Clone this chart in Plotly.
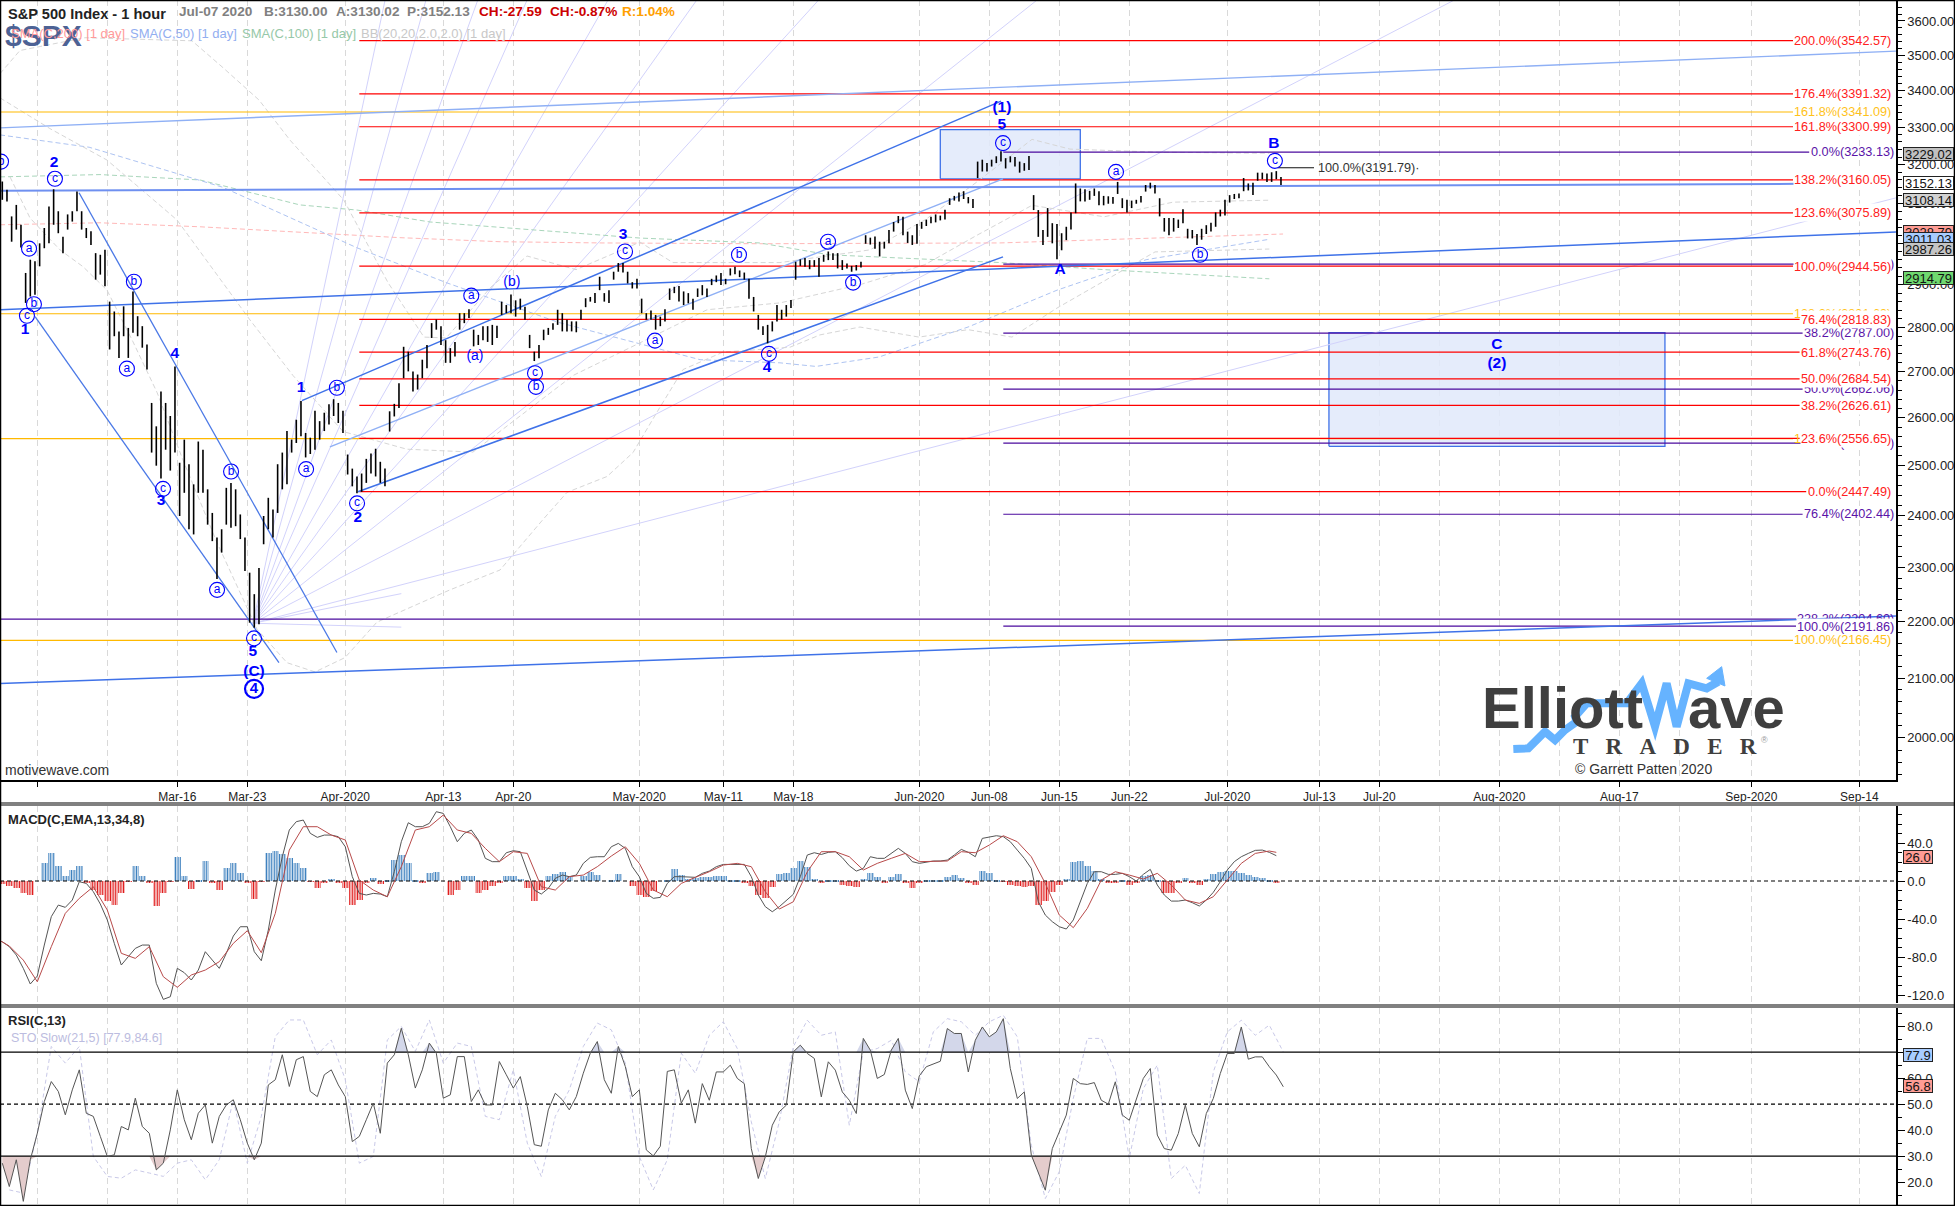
import math
import numpy as np
import plotly.graph_objects as go

W, H = 1955, 1206
FONT = "Liberation Sans"
HOLIDAYS = ["2020-04-10", "2020-05-25", "2020-07-03"]

# ---------- date axis ----------
TICK_DATES = ["2020-03-02", "2020-03-16", "2020-03-23", "2020-04-01", "2020-04-13", "2020-04-20",
              "2020-05-01", "2020-05-11", "2020-05-18", "2020-06-01", "2020-06-08", "2020-06-15",
              "2020-06-22", "2020-07-01", "2020-07-13", "2020-07-20", "2020-08-03", "2020-08-17",
              "2020-09-01", "2020-09-14"]
TICK_TEXT = ["", "Mar-16", "Mar-23", "Apr-2020", "Apr-13", "Apr-20", "May-2020", "May-11", "May-18",
             "Jun-2020", "Jun-08", "Jun-15", "Jun-22", "Jul-2020", "Jul-13", "Jul-20", "Aug-2020",
             "Aug-17", "Sep-2020", "Sep-14"]
GRID_ONLY_DATES = ["2020-03-09", "2020-07-27", "2020-08-10", "2020-08-24"]

# ---------- hourly bars (three sampled per session, first session Feb-26) ----------
HIGH = [3156,3156,3135, 3067,3096,3046, 2928,2960,2956,
        3000,3038,3092, 3136,3080,3016, 3072,3080,3130, 3080,3038,3030, 2976,2972,2984,
        2860,2837,2791, 2849,2799,2884, 2826,2803,2761, 2632,2582,2657, 2632,2604,2712,
        2506,2554,2503, 2462,2550,2533, 2452,2405,2357, 2373,2455,2465, 2452,2402,2357,
        2290,2250,2299, 2399,2435,2412, 2503,2527,2572, 2554,2596,2636, 2568,2558,2615,
        2593,2611,2629, 2640,2632,2615,
        2523,2494,2478, 2484,2514,2525, 2535,2508,2494, 2614,2630,2675, 2756,2745,2701,
        2694,2727,2760, 2810,2818,2803, 2771,2753,2767, 2833,2833,2842, 2795,2783,2803,
        2803,2806,2804, 2860,2852,2877, 2863,2867,2848, 2783,2745,2760, 2795,2799,2810,
        2841,2833,2818, 2814,2814,2841, 2868,2871,2880, 2919,2880,2887, 2931,2952,2952,
        2931,2906,2914,
        2867,2833,2839, 2829,2825,2842, 2891,2895,2897, 2884,2880,2867, 2891,2899,2891,
        2914,2922,2928, 2914,2939,2943, 2934,2929,2914, 2871,2829,2803, 2806,2814,2852,
        2841,2852,2864, 2955,2961,2964, 2959,2959,2964, 2972,2980,2976, 2976,2959,2951,
        2945,2947,2955, 3020,3014,3017, 3004,3004,3033, 3053,3068,3066, 3029,3020,3048,
        3053,3059,3066, 3072,3069,3084, 3113,3119,3128, 3131,3116,3111, 3208,3213,3204,
        3213,3222,3235, 3217,3222,3220, 3208,3204,3223, 3121,3083,3033, 3088,3050,3048,
        3025,3041,3077, 3151,3138,3136, 3132,3138,3131, 3119,3118,3116, 3155,3113,3109,
        3107,3109,3119, 3147,3153,3147, 3113,3063,3063, 3063,3059,3085, 3036,3033,3023,
        3036,3045,3051, 3077,3084,3109,
        3121,3124,3125, 3165,3151,3153, 3179,3179,3177, 3180,3183,3168]
LOW = [3109,3109,3105, 3004,3034,2990, 2857,2872,2876,
       2944,2988,3000, 3046,3025,2976, 3034,3054,3080, 3034,3013,2996, 2912,2924,2896,
       2750,2780,2731, 2780,2731,2788, 2780,2754,2705, 2527,2500,2474, 2533,2490,2527,
       2399,2445,2373, 2363,2445,2445, 2382,2350,2278, 2328,2382,2376, 2379,2354,2293,
       2198,2189,2195, 2344,2373,2357, 2405,2452,2462, 2527,2547,2561, 2517,2524,2533,
       2554,2572,2586, 2604,2589,2568,
       2482,2458,2444, 2447,2465,2484, 2478,2465,2458, 2571,2603,2621, 2686,2701,2657,
       2661,2686,2708, 2776,2795,2760, 2720,2720,2734, 2795,2810,2822, 2757,2760,2771,
       2767,2760,2776, 2829,2833,2833, 2825,2841,2818, 2753,2724,2730, 2771,2783,2795,
       2806,2791,2791, 2791,2789,2818, 2847,2860,2857, 2887,2860,2857, 2912,2931,2929,
       2903,2891,2891,
       2833,2818,2818, 2795,2803,2814, 2864,2880,2860, 2852,2856,2841, 2871,2875,2871,
       2899,2906,2899, 2901,2922,2925, 2918,2912,2867, 2837,2795,2783, 2764,2791,2814,
       2818,2825,2845, 2912,2945,2943, 2937,2943,2919, 2955,2959,2959, 2939,2935,2939,
       2931,2934,2941, 2999,2997,2987, 2968,2987,3000, 3029,3050,3020, 3001,2996,2999,
       3036,3043,3050, 3052,3057,3059, 3096,3107,3105, 3111,3100,3088, 3165,3182,3182,
       3195,3204,3208, 3190,3206,3195, 3179,3184,3186, 3083,3016,2996, 3016,3000,2961,
       2983,3008,3034, 3075,3105,3105, 3109,3119,3095, 3095,3099,3099, 3124,3088,3077,
       3088,3099,3102, 3130,3138,3125, 3067,3029,3020, 3029,3038,3050, 3012,3012,2996,
       3009,3023,3029, 3041,3067,3069,
       3102,3111,3113, 3131,3133,3121, 3158,3162,3155, 3155,3162,3147]

# ---------- moving averages and bands ----------
SMA200_T = [-2.66,4.48,11.62,18.76,25.9,33.05,40.19,51.6,68.76,88.98]
SMA200_P = [3046,3051,3041,3028,3014,3004,3001,2999,3001,3023]
SMA100_T = [-2.66,4.48,11.62,18.76,22.84,28.05,43.05,51.6,56.55,68.84,76.2,88]
SMA100_P = [3168,3174,3160,3096,3083,3053,3013,3001,2972,2953,2936,2914]
SMA50_T = [-2.66,3.7,13.26,22.84,29.2,37.2,47.34,53.05,55.62,60.12,66.48,72.84,79.2,88]
SMA50_P = [3279,3246,3141,2989,2905,2812,2727,2720,2712,2733,2801,2887,2960,3010]
BBU_T = [-2.66,-1.24,3.4,11.05,13.26,15.84,18.05,21.9,25.05,27.62,29.2,32.4,34.98,38.48,43.05,45.4,53.05,59.48,63.4,67.12,71.05,73.76,79.9,88]
BBU_P = [3448,3514,3551,3542,3465,3374,3265,3108,2905,2778,2776,2894,2969,2936,3003,2953,2953,2984,3058,3155,3267,3241,3233,3230]
BBM_T = [-2.66,0.9,4.98,9.98,15.2,18.26,21.84,26.4,31.12,38.27,43.05,47.84,53.05,58.76,63.4,67.12,71.05,76.2,81.12,88]
BBM_P = [3380,3296,3212,3058,2817,2692,2571,2534,2528,2692,2765,2841,2857,2900,2948,3020,3095,3066,3103,3108]
BBL_T = [-1.95,-.52,1.62,3.27,4.98,6.84,8.55,10.4,12.84,15.7,17.84,19.84,21.98,24.26,29.48,33.05,36.12,37.84,40.7,42.55,44.26,46.12,48.98,53.76,55.9,58.76,62.98,66.48,69.62,72.84,77.62,79.84,88]
BBL_P = [3168,3063,2984,2943,2887,2767,2655,2512,2347,2186,2127,2111,2136,2199,2258,2295,2392,2446,2478,2527,2612,2705,2744,2755,2783,2801,2778,2795,2778,2845,2936,2979,2986]

# ---------- Fibonacci levels ----------
RED_LEVELS = [3542.57,3391.32,3300.99,3160.05,3075.89,2944.56,2818.83,2743.76,2684.54,2626.61,2556.65,2447.49]
RED_PCT = ["200.0%","176.4%","161.8%","138.2%","123.6%","100.0%","76.4%","61.8%","50.0%","38.2%","23.6%","0.0%"]
YELLOW_LEVELS = [3341.09,2831.69,2556.10,2166.45]
YELLOW_PCT = ["161.8%","138.2%","123.6%","100.0%"]
PURPLE_LEVELS = [3233.13,2949.41,2787.00,2662.06,2546.79,2402.44,2191.86]
PURPLE_PCT = ["0.0%","23.6%","38.2%","50.0%","61.8%","76.4%","100.0%"]
PURPLE_LONG_LEVEL = 2204.60
PURPLE_LONG_PCT = "228.2%"

# ---------- drawn trend lines: (t0, p0, t1, p1) ----------
THIN_BLUE = [(2.98,3127,21.4,2145),(-.16,2825,17.26,2127)]
STRONG_BLUE = [(-2.66,2841,132.76,3028),(-2.66,2091,132.76,2210),(18.9,2637,68.84,3371),(22.9,2447,68.98,2967)]
PALE_BLUE = [(-2.66,3298,132.76,3512),(20.9,2539,68.98,3163)]
MID_BLUE = [(-2.66,3132,125.9,3150)]
FAN_ORIGIN = (15.4, 2197)
FAN_T = [24.84,27.76,31.46,34.98,40.76,47.1,55.8,71.4,101.2,132.76,26,26]
FAN_P = [3662,3662,3662,3662,3662,3662,3662,3662,3662,3114,2251,2190]
BOXES = [(64.5,74.5,3163,3293),(92.26,116.26,2540,2788)]

# ---------- wave labels ----------
CIRCLED = [("b",-2.59,3208),("c",1.26,3163),("a",-.59,2987),("b",-.24,2854),("c",-.74,2827),("b",6.9,2907),
           ("a",6.4,2707),("c",8.98,2453),("b",13.84,2488),("a",12.84,2258),("c",15.48,2170),("b",21.4,2665),
           ("a",19.2,2493),("c",22.84,2424),("a",31,2874),("c",35.55,2697),("b",35.62,2667),("c",41.98,2980),
           ("a",44.12,2770),("b",50.12,2972),("c",52.26,2740),("a",56.48,3004),("b",58.27,2905),("c",68.98,3257),
           ("a",77.05,3181),("b",83.05,2972),("c",88.4,3210)]
BOLD_WAVES = [("2",1.19,3205),("1",-.88,2795),("4",9.83,2740),("3",8.84,2428),("5",15.4,2145),("(C)",15.48,2111),
              ("1",18.84,2665),("2",22.9,2395),("3",41.84,3021),("4",52.12,2709),("(1)",68.9,3352),("5",68.9,3306),
              ("A",73.05,2936),("B",88.33,3255),("C",104.26,2760),("(2)",104.26,2718)]
PLAIN_WAVES = [("(a)",31.26,2734),("(b)",33.9,2905)]
THICK_WAVE = ("4",15.48,2082)

# ---------- MACD ----------
MACD_A = [-63.9,-69.1,-77.9,-91.9,-108.4,-100,-67.4,-37.5,-25.3,-27.7,-20,-.7,-2.5,-11.2,-24.2,-41,-65.6,-88.4,-79.6,-70.9,
          -67.4,-67.4,-107.7,-124.6,-121.8,-91.9,-96.5,-104.2,-93.7,-74.4,-83.2,-91.9,-76.1,-57.9,-48.1,-48.1,-74.4,-83.9,-51.6,-9.5,
          25.6,53.7,62.5,64.2,50.2,46,48.4,48.4,46.7,36.1,4.6,-13,-14.7,-13,-13.7,-16.5,9.8,41.4,61.4,57.2,
          57.2,60.7,73,71.2,57.2,41.4,50.2,53.7,43.2,23.9,20.4,20.4,29.8,31.9,30.9,11.6,-9.5,-13.7,-7.7,2.8,
          6.3,4.6,6.3,18.6,24.9,25.6,25.6,36.1,39.6,34.4,15.1,4.6,-13,-18.2,-17.2,-2.5,4.6,4.6,4.6,3.9]
MACD_B = [8.1,10.5,15.1,17.5,17.5,17.5,17.5,4.6,-14.7,-27,-32.3,-27,-20,-14,4.6,27.4,29.8,28,30.2,30.9,
          24.6,16.1,10.5,13.3,25.6,23.9,23.9,29.1,34.4,29.1,20.4,18.6,19.6,21.1,21.1,22.1,27.4,33.3,30.2,25.6,
          44.9,46.7,47.7,46.7,41.4,32.6,23.9,13.3,-21.8,-35.8,-42.8,-48.1,-50.5,-41,-21.8,-2.5,9.8,9.8,7,7,
          8.1,4.6,0,7,12.3,-4.2,-14.7,-21.1,-21.1,-20,-22.8,-26.3,-20,-11.9,-.7,11.6,20.4,25.6,29.1,32.3,
          32.6,30.2,26.7]
SIGNAL_T = [-2.66] + list(range(-2, 89)) + [88.5]
SIGNAL = [-62.8,-68.4,-83.2,-106,-69.1,-34,-18.2,-6,-30.5,-76.1,-81.4,-69.1,-100.7,-111.9,-98.9,-93.7,-84.9,-65.6,-52.3,-75.4,
          -34,32.6,57.2,57.2,48.4,43.2,1,-9.5,-16.5,15.1,53.7,57.2,69.5,53.7,50.2,34.4,20.4,30.9,29.1,-6,
          -9.5,4.6,6.3,15.1,26.3,36.1,18.6,-9.5,-16.5,-2.5,3.9,
          9.8,16.8,18.6,15.1,-11.2,-29.5,-21.8,9.8,30.9,30.9,25.6,11.6,18.6,23.9,29.1,20.4,20.4,21.1,30.9,29.8,
          37.9,47.7,41.4,25.6,-2.5,-35.8,-49.1,-28.8,1.1,9.8,6.3,2.1,8.1,-4.2,-20,-23.5,-16.5,1.1,18.6,29.1,
          31.6,30.2]
HIST_A = [-2.8,-4.9,-7.4,-12.6,-14.4,0,18.9,29.5,15.4,4.9,11.9,15.4,-2.1,-9.1,-14.4,-21.4,-24.9,-12.6,-.7,15.4,
          4.9,-2.1,-26,-12.6,-.7,25.3,4.9,-8.4,1.4,20.7,-2.1,-9.1,13.7,18.9,8.4,-2.1,-18.9,-.4,29.5,31.2,
          28.8,24.2,18.9,13.7,-.4,-7.4,-2.1,2.1,-1.4,-7.4,-24.9,-19.6,-2.1,3.2,-2.8,1.4,22.5,27.7,18.9,1.4,
          -2.1,8.4,9.1,0,-14.4,-9.1,4.9,5.6,-12.6,-9.1,-4.9,-2.1,5.6,5.6,2.1,-7.4,-21.4,-9.1,4.9,7.7,
          9.1,4.9,0,4.9,9.1,6.7,0,1.4,7.7,0,-4.9,-14.4,-16.8,-10.9,0,1.4,12.6,6.7,2.1,2.8]
HIST_B = [3.9,4.6,5.6,5.3,1.4,1.1,-1.1,-5.6,-14.4,-17.9,-6.7,7.4,8.1,13.7,21.4,14.4,2.5,-1.1,1.1,.7,
          -3.9,-5.6,-6.3,2.5,8.4,3.9,-1.1,3.9,7.7,-1.1,-7.4,-2.1,1.4,1.4,.4,3.9,6.7,3.2,-1.1,-3.9,
          10.9,8.4,1.4,-.4,-4.6,-5.6,-6.7,-5.6,-24.9,-21.4,-11.6,-3.9,2.5,20,21.4,15.4,10.2,2.5,-1.4,-1.1,
          1.4,-3.9,-1.1,4.9,6,.4,-12.6,-12.6,-2.1,3.2,-1.1,-3.9,2.5,7.7,9.5,10.2,10.9,8.4,6,3.9,
          3.2,1.1,-2.5]

# ---------- RSI / Stochastic ----------
RSI_A = [27.3,18.3,28.6,12.6,28.6,38.8,51,58.7,54.9,45.9,55.5,63.2,46.5,45.3,37.6,29.9,30.5,41.4,40.1,52.3,
         41.4,38.8,24.7,27.3,40.1,55.5,44,36.3,46.5,49.7,35,45.3,49.7,51.7,44,35,28.6,35,57.4,59.4,
         69,56.8,67.1,68.3,54.9,52.9,61.3,63.2,57.4,52.9,35.6,37.6,44,50.4,38.8,65.8,69,79.2,69,56.2,
         63.2,73.5,69.6,52.3,53.6,68.3,68.3,51,55.5,49.7,49.7,66.4,61.3,56.2,60.6,49.1,34.4,33.8,47.8,54.2,
         51.7,47.8,52.9,61.9,69.6,74.1,59.4,54.2,72.2,64.5,52.9,55.5,32.4,30.1,33.8,62.6,63.2,50.4,55.5,42.7]
RSI_B = [57.9,51.5,62.4,62.4,65,59.9,57.9,32.9,21.4,29.7,41.9,47.1,49.6,70.1,72.7,69.5,67.6,52.8,66.3,63.1,
         54.7,51.5,46.4,75.3,70.8,59.9,61.4,70.8,75.3,55.4,48.3,60.9,64.4,65.6,66.5,79.1,77.2,77.2,62.4,74.6,
         79.7,75.9,77.8,82.9,63.7,52.2,54.7,30.4,24,16.9,32.9,39.4,45.8,59.9,57.9,57.6,58.3,51.5,50,58.6,
         45.8,43.8,52.2,59.9,63.7,38.1,32.9,32.3,38.7,49.6,38.7,33.6,46.4,52.2,61.8,69.5,69.5,79.7,67.3,68.2,
         68.2,64.4,61.2,56.7]
STO_A = [17,15.8,38.8,72.2,65.8,72.2,29.9,22.2,21.5,24.7,23.5,22.2,27.3,28.6,20.9,28.6,51.7,27.3,45.3,76,
         82.4,82.4,69,74.7,59.4,27.3,29.9,74.7,79.9,70.3,82.4,65.8,73.5,72.2,45.3,44,63.2,35,22.2,45.3,
         55.5,72.2,81.2,78.6,65.8,29.9,17,28.6,69.6,61.9]
STO_B = [76.5,81.7,71.4,43.2,21.4,43.2,72.1,82.3,76.5,77.8,41.9,70.1,71.4,74.6,62.4,58.6,77.8,82.9,81.7,76.5,
         81.7,84.2,75.9,34.2,13.7,24,52.2,75.3,75.3,62.4,29.1,56,65,21.4,26.5,15.6,62.4,77.8,82.3,76.5,
         80.4,70.1]

# ---------- value tags ----------
PRICE_TAGS = [(3229.02,"#c0c0c0"),(3152.13,"#ffffff"),(3108.14,"#d2d2d2"),(3028.79,"#ff9c94"),
              (3011.03,"#a8ccff"),(2987.26,"#c4c4c4"),(2914.79,"#6fd86f")]
MACD_TAG = (25.0, "26.0", "#ff9c94")
RSI_TAGS = [(69.0,"77.9","#a8ccff"),(57.0,"56.8","#ff9c94")]
PRICE_TICKS = list(range(2000, 3700, 100))
MACD_TICKS = [40,0,-40,-80,-120]
RSI_TICKS = [80,70,60,50,40,30,20]

# ---------- layout geometry ----------
AXIS_RIGHT = 1896
PX_PER_DAY = 14.0
X0_PX = 37.3
def t_of_px(px):
    return (px - X0_PX) / PX_PER_DAY
def px_(x):
    return x / W
def py_(y):
    return 1 - y / H
def date_t(d):
    n = int(np.busday_count("2020-03-02", d, holidays=HOLIDAYS))
    return n if n <= 89 else 89 + (n - 89) * 12 / 14
XR = [t_of_px(0), t_of_px(AXIS_RIGHT)]

fig = go.Figure()
def line(xs, ys, color, width=1, dash=None, axis=1):
    sfx = "" if axis == 1 else str(axis)
    fig.add_trace(go.Scatter(x=xs, y=ys, mode="lines", xaxis="x"+sfx, yaxis="y"+sfx, hoverinfo="skip",
                             line=dict(color=color, width=width, dash=dash), showlegend=False))

# boxes
for t0, t1, p0, p1 in BOXES:
    fig.add_trace(go.Scatter(x=[t0,t1,t1,t0,t0], y=[p0,p0,p1,p1,p0], mode="lines", fill="toself",
                             fillcolor="rgba(225,233,250,0.85)", line=dict(color="#3f72e8", width=1.3),
                             hoverinfo="skip", showlegend=False))
# fan
for ft, fp in zip(FAN_T, FAN_P):
    line([FAN_ORIGIN[0], ft], [FAN_ORIGIN[1], fp], "#d2d2fb", 1)
# MAs
line(SMA200_T, SMA200_P, "#ffb8b8", 1, "5px,3px")
line(SMA100_T, SMA100_P, "#a9d6bb", 1, "5px,3px")
line(SMA50_T, SMA50_P, "#aec4f2", 1, "5px,3px")
for a, b in ((BBU_T,BBU_P),(BBM_T,BBM_P),(BBL_T,BBL_P)):
    line(a, b, "#d6d6d6", 1, "5px,3px")
# fib lines + labels
anns = []
def lab(text, px, price, color, bg=None, h=None):
    d = dict(text=text, xref="paper", x=px_(px), xanchor="right", yref="y", y=math.log10(price), yanchor="middle",
             showarrow=False, font=dict(family=FONT, size=12.7, color=color), borderpad=0)
    if bg:
        d["bgcolor"] = bg
    if h:
        d["height"] = h
    anns.append(d)

PURPLE = "#4b0a9e"; RED = "#ff0000"; YEL = "#ffb900"
p_start = date_t("2020-06-09")
for lv, pc in zip(PURPLE_LEVELS, PURPLE_PCT):
    txt = f"{pc}({lv:.2f})"
    line([p_start, t_of_px(1895 - 6.6*len(txt))], [lv, lv], PURPLE, 1.2)
    lab(txt, 1895, lv, "#5a14a8")
txt = f"{PURPLE_LONG_PCT}({PURPLE_LONG_LEVEL:.2f})"
line([XR[0], t_of_px(1895 - 6.6*len(txt))], [PURPLE_LONG_LEVEL]*2, PURPLE, 1.2)
lab(txt, 1895, PURPLE_LONG_LEVEL, "#5a14a8")
for lv, pc in zip(YELLOW_LEVELS, YELLOW_PCT):
    txt = f"{pc}({lv:.2f})"
    line([XR[0], t_of_px(1892 - 6.6*len(txt))], [lv, lv], YEL, 1.2)
    lab(txt, 1892, lv, "#ffc21a", bg="#ffffff" if pc == "100.0%" else None)
r_start = date_t("2020-04-02")
for lv, pc in zip(RED_LEVELS, RED_PCT):
    txt = f"{pc}({lv:.2f})"
    line([r_start, t_of_px(1892 - 6.6*len(txt))], [lv, lv], RED, 1.2)
    lab(txt, 1892, lv, "#ff2020", bg="#ffffff", h=17)
# bring the purple 100% label above the hidden 228.2% one
lab(f"{PURPLE_PCT[-1]}({PURPLE_LEVELS[-1]:.2f})", 1895, PURPLE_LEVELS[-1], "#5a14a8", bg="#ffffff", h=15)
anns.append(dict(text="100.0%(3191.79)·", xref="paper", x=px_(1316), xanchor="left", yref="y", y=math.log10(3191.79),
                 showarrow=False, font=dict(family=FONT, size=12.7, color="#333333")))
line([date_t("2020-07-07")+0.6, t_of_px(1314)], [3191.79, 3191.79], "#111111", 1.2)

# trend lines
for t0,p0,t1,p1 in THIN_BLUE:
    line([t0,t1],[p0,p1],"#4a78e6",1.3)
for t0,p0,t1,p1 in PALE_BLUE:
    line([t0,t1],[p0,p1],"#8fb0f5",1.4)
for t0,p0,t1,p1 in MID_BLUE:
    line([t0,t1],[p0,p1],"#6f90f0",2)
for t0,p0,t1,p1 in STRONG_BLUE:
    line([t0,t1],[p0,p1],"#3f72e8",1.5)

# bars
bx, by = [], []
for i, (hi, lo) in enumerate(zip(HIGH, LOW)):
    t = -3 + (i + 0.5) / 3
    bx += [t, t, None]
    by += [lo, hi, None]
line(bx, by, "#000000", 1.6)

# wave labels
BLUE = "#0000ff"
def txt_trace(items, size, bold=False, marker=None):
    fig.add_trace(go.Scatter(x=[i[1] for i in items], y=[i[2] for i in items], text=[i[0] for i in items],
                             mode="text+markers" if marker else "text", textposition="middle center",
                             marker=marker, hoverinfo="skip", showlegend=False,
                             textfont=dict(family=FONT, size=size, color=BLUE, weight="bold" if bold else "normal")))
txt_trace(CIRCLED, 12, marker=dict(symbol="circle-open", size=15, color=BLUE, line=dict(width=1.1, color=BLUE)))
txt_trace(BOLD_WAVES, 15.5, bold=True)
txt_trace(PLAIN_WAVES, 14)
txt_trace([THICK_WAVE], 15, bold=True, marker=dict(symbol="circle-open", size=18, color=BLUE, line=dict(width=2.2, color=BLUE)))

# --- MACD pane
ta = [-2.5 + .5*i for i in range(len(MACD_A))]
tb = [47.5 + .5*i for i in range(len(MACD_B))]
hv = HIST_A + HIST_B
hx = [-2.5 + .5*i for i in range(len(HIST_A))] + [47.5 + .5*i for i in range(len(HIST_B))]
hc = ["#3f82bf" if v >= 0 else "#e01e1e" for v in hv]
fig.add_trace(go.Bar(x=hx, y=hv, width=0.5, xaxis="x2", yaxis="y2", hoverinfo="skip", showlegend=False,
                     marker=dict(color="#ffffff", line=dict(width=0),
                                 pattern=dict(shape="|", size=2.6, solidity=0.55, fgcolor=hc, bgcolor="#ffffff", fillmode="replace"))))
line(XR, [0, 0], "#000000", 1.1, "4px,3px", axis=2)
line(ta + tb, MACD_A + MACD_B, "#555555", 1, axis=2)
line(SIGNAL_T[:len(SIGNAL)], SIGNAL, "#b84a4a", 1, axis=2)

# --- RSI pane
ra = [-2.5 + .5*i for i in range(len(RSI_A))]
rb = [47.5 + .5*i for i in range(len(RSI_B))]
rt = ra + rb
rv = np.array(RSI_A + RSI_B, dtype=float)
line([-2 + i for i in range(len(STO_A))] + [48 + i for i in range(len(STO_B))], STO_A + STO_B, "#c9c9e8", 1, "4px,3px", axis=3)
fig.add_trace(go.Scatter(x=rt, y=[70]*len(rt), mode="lines", line=dict(width=0), xaxis="x3", yaxis="y3", hoverinfo="skip", showlegend=False))
fig.add_trace(go.Scatter(x=rt, y=np.maximum(rv, 70), mode="lines", line=dict(width=0), fill="tonexty",
                         fillcolor="#d3d7ea", xaxis="x3", yaxis="y3", hoverinfo="skip", showlegend=False))
fig.add_trace(go.Scatter(x=rt, y=[30]*len(rt), mode="lines", line=dict(width=0), xaxis="x3", yaxis="y3", hoverinfo="skip", showlegend=False))
fig.add_trace(go.Scatter(x=rt, y=np.minimum(rv, 30), mode="lines", line=dict(width=0), fill="tonexty",
                         fillcolor="#e4cccc", xaxis="x3", yaxis="y3", hoverinfo="skip", showlegend=False))
line(XR, [70, 70], "#000000", 1.2, axis=3)
line(XR, [30, 30], "#000000", 1.2, axis=3)
line(XR, [50, 50], "#000000", 1.1, "4px,3px", axis=3)
line(rt, rv.tolist(), "#555555", 1, axis=3)

# --- tags
def tag(value_y, text, color, axis, yval, width):
    sfx = "" if axis == 1 else str(axis)
    fig.add_trace(go.Scatter(x=[t_of_px(AXIS_RIGHT+4)], y=[value_y], mode="markers", xaxis="x"+sfx, yaxis="y"+sfx,
                             cliponaxis=False, hoverinfo="skip", showlegend=False,
                             marker=dict(symbol="triangle-left", size=11, color=color, line=dict(width=.7, color="#222"))))
    anns.append(dict(text=text, xref="paper", x=px_(AXIS_RIGHT+7), xanchor="left", yref="y"+sfx, y=yval, yanchor="middle",
                     showarrow=False, bgcolor=color, bordercolor="#222222", borderwidth=1, borderpad=0, width=width, height=12,
                     font=dict(family=FONT, size=13, color="#111111")))
for v, c in PRICE_TAGS:
    tag(v, f"{v:.2f}", c, 1, math.log10(v), 49)
tag(MACD_TAG[0], MACD_TAG[1], MACD_TAG[2], 2, MACD_TAG[0], 28)
for v, s, c in RSI_TAGS:
    tag(v, s, c, 3, v, 28)

# --- free text
def free(text, x, y, size, color, bold=False, family=FONT, anchor="left"):
    anns.append(dict(text=f"<b>{text}</b>" if bold else text, xref="paper", yref="paper", x=px_(x-1.5), y=py_(y), xanchor=anchor,
                     yanchor="middle", showarrow=False, font=dict(family=family, size=size, color=color)))
free("$SPX", 4, 36, 30, "rgba(45,70,130,0.85)", bold=True)
free("SMA(C,200) [1 day]", 10, 33, 13, "#ff9a9a")
free("SMA(C,50) [1 day]", 129, 33, 13, "#92aef0")
free("SMA(C,100) [1 day]", 241, 33, 13, "#96c8a8")
free("BB(20,20,2.0,2.0) [1 day]", 360, 33, 13, "#c8c8c8")
free("S&amp;P 500 Index - 1 hour", 7, 14, 14.6, "#222222", bold=True)
free("Jul-07 2020", 178, 12, 13.6, "#808080", bold=True)
free("B:3130.00", 263, 12, 13.6, "#808080", bold=True)
free("A:3130.02", 335, 12, 13.6, "#808080", bold=True)
free("P:3152.13", 406, 12, 13.6, "#808080", bold=True)
free("CH:-27.59", 478, 12, 13.6, "#cc0000", bold=True)
free("CH:-0.87%", 549, 12, 13.6, "#cc0000", bold=True)
free("R:1.04%", 621, 12, 13.6, "#ffa000", bold=True)
free("motivewave.com", 4, 770, 14, "#333333")
free("MACD(C,EMA,13,34,8)", 7, 819, 13, "#222222", bold=True)
free("RSI(C,13)", 7, 1020, 13, "#222222", bold=True)
free("STO Slow(21,5) [77.9,84.6]", 10, 1038, 12.5, "#bcbce0")
# logo text
free("Elliott", 1481, 707, 58, "#3f3f3f", bold=True)
free("ave", 1687, 707, 58, "#3f3f3f", bold=True)
free("T\u00a0\u00a0\u00a0R\u00a0\u00a0\u00a0A\u00a0\u00a0\u00a0D\u00a0\u00a0\u00a0E\u00a0\u00a0\u00a0R", 1572, 746, 23, "#3f3f3f", bold=True, family="Liberation Serif")
free("®", 1760, 740, 9, "#999999")
free("© Garrett Patten 2020", 1574, 769, 14, "#333333")

# --- shapes (frame, separators, logo swoosh)
def poly(points, close=False):
    s = "M " + " L ".join(f"{px_(1440+a/3):.5f},{py_(650+b/3):.5f}" for a, b in points)
    return s + (" Z" if close else "")
SWOOSH = [(220,297),(265,295),(315,245),(345,270),(375,240),(410,215),(405,200),(440,160),(560,160),(605,100),
          (645,230),(680,100),(710,230),(745,100),(800,115),(835,95)]
ARROW = [(800,85),(845,50),(855,108)]
shapes = [
    dict(type="rect", xref="paper", yref="paper", x0=0, x1=1, y0=py_(806), y1=py_(802), fillcolor="#808080", line=dict(width=0)),
    dict(type="rect", xref="paper", yref="paper", x0=0, x1=1, y0=py_(1008), y1=py_(1004), fillcolor="#808080", line=dict(width=0)),
    dict(type="rect", xref="paper", yref="paper", x0=px_(.5), x1=px_(1954.5), y0=py_(1205.5), y1=py_(.5), line=dict(color="#000000", width=1.5)),
    dict(type="path", xref="paper", yref="paper", path=poly(SWOOSH), line=dict(color="#66b3ff", width=8), layer="above"),
    dict(type="path", xref="paper", yref="paper", path=poly(ARROW, True), fillcolor="#66b3ff", line=dict(color="#66b3ff", width=1), layer="above"),
]

tick_t = [date_t(d) for d in TICK_DATES]
grid_t = [date_t(d) for d in GRID_ONLY_DATES]
def xaxis(anchor, labels):
    return dict(domain=[0, AXIS_RIGHT/W], range=XR, anchor=anchor, tickmode="array", tickvals=tick_t,
                ticktext=TICK_TEXT if labels else [""]*len(tick_t), ticks="outside" if labels else "", ticklen=5,
                tickcolor="#000000", showline=labels, linecolor="#000000", linewidth=1.5,
                showgrid=True, gridcolor="#d9d9d9", griddash="6px,4px", gridwidth=1, zeroline=False,
                minor=dict(tickmode="array", tickvals=grid_t, showgrid=True, gridcolor="#d9d9d9", griddash="6px,4px", gridwidth=1, ticks=""),
                tickfont=dict(family=FONT, size=12, color="#222222"), fixedrange=True)
def yaxis(anchor, top, bottom, rng, vals, text, minor_vals, typ="linear"):
    return dict(domain=[py_(bottom), py_(top)], range=rng, type=typ, anchor=anchor, side="right", tickmode="array",
                tickvals=vals, ticktext=text, ticks="outside", ticklen=7, tickcolor="#000000", showline=True,
                linecolor="#000000", linewidth=1.5, showgrid=False, zeroline=False,
                minor=dict(tickmode="array", tickvals=minor_vals, ticks="outside", ticklen=4, tickcolor="#000000", showgrid=False),
                tickfont=dict(family=FONT, size=13, color="#222222"), fixedrange=True)

fig.update_layout(
    width=W, height=H, margin=dict(l=0, r=0, t=0, b=0), paper_bgcolor="#ffffff", plot_bgcolor="#ffffff",
    showlegend=False, bargap=0, barmode="overlay", annotations=anns, shapes=shapes, font=dict(family=FONT),
    xaxis=xaxis("y", True), xaxis2=xaxis("y2", False), xaxis3=xaxis("y3", False),
    yaxis=yaxis("x", 0, 780, [math.log10(1932), math.log10(3662.5)], PRICE_TICKS, [f"{v:.2f}" for v in PRICE_TICKS],
                list(range(1940, 3660, 20)), "log"),
    yaxis2=yaxis("x2", 806, 1003, [-128.4, 79], MACD_TICKS, [f"{v:.1f}" for v in MACD_TICKS], list(range(-120, 80, 10))),
    yaxis3=yaxis("x3", 1008, 1205, [11.2, 87], RSI_TICKS, [f"{v:.1f}" for v in RSI_TICKS], list(range(15, 90, 5))),
)
fig.write_html("out.html", config=dict(displayModeBar=False),
               post_script="document.body.style.margin='0';document.body.style.overflow='hidden';")
